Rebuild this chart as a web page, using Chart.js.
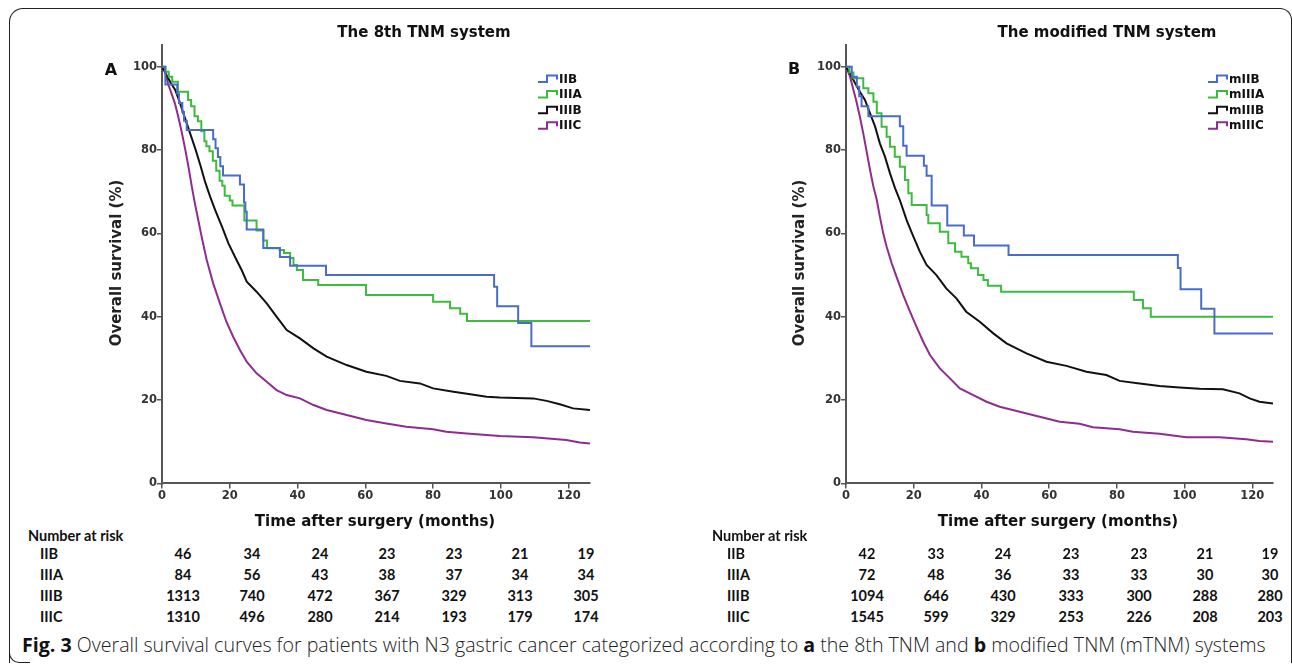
<!DOCTYPE html>
<html>
<head>
<meta charset="utf-8">
<script src="https://cdn.jsdelivr.net/npm/chart.js@4.4.1/dist/chart.umd.min.js"></script>
<style>
  html, body { margin:0; padding:0; background:#fff; width:1292px; height:666px; overflow:hidden; }
  .abs { position:absolute; white-space:nowrap; }
  .frame { position:absolute; left:9px; top:8px; width:1281px; height:654px; border:1.6px solid #222; border-bottom:none; border-top-left-radius:14px; border-top-right-radius:12px; }
  .frame2 { position:absolute; left:9px; top:640px; width:20px; height:22px; border-left:1.6px solid #222; border-bottom:1.6px solid #222; border-bottom-left-radius:10px; border-top:none; }
  .ttl { font-family:"DejaVu Sans"; font-weight:bold; font-size:15px; color:#111; transform:translate(-50%,-50%); }
  .pl { font-family:"DejaVu Sans"; font-weight:bold; font-size:16px; color:#111; transform:translate(-50%,-50%); }
  .ytl { font-family:"DejaVu Sans"; font-weight:bold; font-size:15px; color:#222; transform:translate(-50%,-50%) rotate(-90deg); }
  .risk { font-family:"Lato"; font-weight:bold; font-size:14.5px; color:#111; }
  .num { transform:translateX(-50%); }
  .cap { font-family:"Open Sans"; font-weight:300; font-size:19.6px; color:#222; }
  canvas { position:absolute; }
</style>
</head>
<body>
<div class="frame"></div>
<div class="frame2"></div>
<canvas id="cA" width="500" height="500" style="left:100px;top:20px"></canvas>
<canvas id="cB" width="500" height="500" style="left:784px;top:20px"></canvas>
<div id="texts"></div>
<script>
// ---------- DATA ----------
const yTicks = [0, 20, 40, 60, 80, 100];
const xTicks = [0, 20, 40, 60, 80, 100, 120];

// Panel A: 8th TNM
const tA_IIB  = [0, 1, 4.5, 5, 6, 6.5, 7.3, 15.1, 15.8, 16.5, 17.2, 18, 23, 24.2, 24.6, 25, 29.9, 34.8, 37.8, 48.4, 98, 98.9, 105.1, 109, 126.3];
const sA_IIB  = [100, 95.7, 93.5, 91.3, 89.1, 87.0, 84.8, 82.6, 80.4, 78.3, 76.1, 73.9, 71.7, 67.4, 65.2, 60.9, 56.5, 54.3, 52.2, 50.0, 47.2, 42.5, 38.5, 32.9, 32.9];
const tA_IIIA = [0, 1, 2, 3, 4.7, 7.7, 8.6, 9.6, 10.6, 11.6, 12.5, 13.1, 14, 15, 16, 17, 17.8, 18.5, 20, 20.8, 24.3, 27.9, 29.9, 31, 34.7, 36, 37.8, 38.8, 39.8, 41.6, 46.1, 60.2, 80, 85, 88, 90, 126.3];
const sA_IIIA = [100, 98.8, 97.6, 96.4, 94.0, 92.0, 90.5, 88.1, 86.9, 84.5, 82.1, 80.9, 79.7, 77.4, 75.0, 72.6, 71.4, 69.0, 67.9, 66.7, 63.1, 60.7, 58.3, 56.4, 56.0, 55.3, 54.1, 52.4, 51.2, 48.8, 47.6, 45.2, 43.6, 42.0, 40.7, 39.0, 39.0];
const tA_IIIB = [0, 2.4, 3.9, 5.3, 6.8, 8.3, 9.8, 11.3, 12.7, 14.2, 15.7, 17.7, 19.6, 22, 23.5, 25, 27.9, 30.9, 33.8, 36.8, 40.7, 44.7, 48.6, 54.5, 60.3, 66.2, 70.2, 76.1, 80, 86, 90, 95.8, 99.7, 109.5, 113.5, 117.4, 121.3, 126.3];
const sA_IIIB = [100, 96.4, 94.4, 91.3, 87.6, 84.0, 80.4, 76.4, 72.4, 68.8, 65.6, 61.6, 57.6, 53.6, 51.2, 48.4, 46.0, 43.2, 40.0, 36.8, 34.8, 32.4, 30.4, 28.4, 26.8, 25.8, 24.6, 24.0, 22.8, 22.0, 21.5, 20.8, 20.6, 20.4, 19.8, 19.0, 18.0, 17.6];
const tA_IIIC = [0, 0.8, 1.9, 2.8, 3.8, 4.8, 5.8, 6.8, 7.8, 8.8, 9.7, 10.7, 11.7, 13.2, 15.1, 17.1, 19, 21, 23, 25, 27.9, 30.9, 33.8, 36.8, 40.7, 44.7, 48.6, 54.5, 60.3, 66.2, 72.1, 80, 83.9, 89.9, 99.7, 109.5, 119.3, 123.3, 126.3];
const sA_IIIC = [100, 99.2, 95.6, 93.6, 91.2, 88.0, 84.4, 80.4, 76.0, 71.2, 67.2, 63.2, 59.2, 53.6, 48.0, 43.2, 38.8, 35.2, 32.0, 29.2, 26.4, 24.4, 22.4, 21.2, 20.4, 18.8, 17.6, 16.4, 15.2, 14.4, 13.6, 13.0, 12.4, 12.0, 11.4, 11.1, 10.4, 9.8, 9.6];

// Panel B: modified TNM
const tB_IIB  = [0, 1.7, 3.2, 3.9, 4.6, 6.6, 15.9, 16.9, 17.9, 23, 23.8, 25.3, 29.9, 34.8, 37.8, 48, 98, 98.8, 104.9, 108.8, 126.1];
const sB_IIB  = [100, 97.6, 95.2, 92.9, 90.5, 88.1, 85.7, 81.0, 78.6, 76.2, 73.8, 66.7, 61.9, 59.5, 57.1, 54.8, 51.7, 46.6, 41.9, 36.0, 36.0];
const tB_IIIA = [0, 1, 2.2, 5.1, 6.6, 8.1, 9.1, 10.5, 12, 13, 14.4, 15.9, 17.4, 18.4, 19.4, 23.8, 24.3, 27.7, 30.2, 32.2, 34.1, 36.1, 36.9, 39, 40.6, 41.9, 45.8, 85, 87.7, 90, 126.1];
const sB_IIIA = [100, 98.6, 97.2, 94.8, 93.6, 91.6, 88.8, 85.6, 83.2, 80.8, 78.4, 76.0, 72.8, 69.6, 66.8, 64.4, 62.4, 60.4, 57.6, 55.6, 54.4, 52.8, 51.6, 50.0, 48.8, 47.4, 46.0, 44.0, 42.0, 40.0, 40.0];
const tB_IIIB = [0, 1.2, 2.7, 4.1, 5.6, 7.1, 8.6, 10, 11.5, 13, 14.5, 15.9, 17.9, 19.9, 21.8, 23.8, 26.7, 29.6, 32.6, 35.5, 39.5, 43.5, 47.4, 53.3, 59.2, 65.1, 71, 76.9, 80.8, 86.7, 92.6, 98.5, 104.4, 111.3, 116.2, 119.2, 122.1, 126.1];
const sB_IIIB = [100, 98.4, 96.0, 94.0, 92.0, 88.8, 85.6, 81.6, 78.4, 74.4, 70.8, 68.0, 63.2, 59.2, 55.6, 52.4, 50.0, 46.8, 44.4, 41.2, 38.8, 36.0, 33.6, 31.2, 29.2, 28.2, 26.8, 26.0, 24.6, 24.0, 23.4, 23.0, 22.7, 22.6, 21.6, 20.4, 19.6, 19.2];
const tB_IIIC = [0, 1.2, 2.2, 3.1, 4.1, 5.1, 6.1, 7.1, 8.1, 9.1, 10, 11, 12, 13.5, 14.9, 16.9, 18.9, 20.8, 22.8, 24.8, 27.7, 30.7, 33.6, 37.6, 41.5, 45.4, 51.3, 57.2, 63.1, 69, 72.9, 80.8, 84.7, 92.6, 100.5, 110.3, 118.2, 122.1, 126.1];
const sB_IIIC = [100, 97.6, 94.4, 91.6, 88.0, 84.0, 79.6, 75.2, 71.2, 68.0, 64.0, 60.0, 56.8, 52.8, 49.6, 45.2, 41.2, 37.6, 34.0, 30.8, 27.6, 25.2, 22.8, 21.2, 19.6, 18.4, 17.2, 16.0, 14.8, 14.3, 13.5, 13.0, 12.4, 11.9, 11.1, 11.1, 10.6, 10.2, 10.0];

const labelsA = ["IIB", "IIIA", "IIIB", "IIIC"];
const labelsB = ["mIIB", "mIIIA", "mIIIB", "mIIIC"];
const riskLabels = ["IIB", "IIIA", "IIIB", "IIIC"];
const riskA_IIB  = [46, 34, 24, 23, 23, 21, 19];
const riskA_IIIA = [84, 56, 43, 38, 37, 34, 34];
const riskA_IIIB = [1313, 740, 472, 367, 329, 313, 305];
const riskA_IIIC = [1310, 496, 280, 214, 193, 179, 174];
const riskB_IIB  = [42, 33, 24, 23, 23, 21, 19];
const riskB_IIIA = [72, 48, 36, 33, 33, 30, 30];
const riskB_IIIB = [1094, 646, 430, 333, 300, 288, 280];
const riskB_IIIC = [1545, 599, 329, 253, 226, 208, 203];

// ---------- STYLE ----------
const colors = ["#4a6cc9", "#3dbb3d", "#111111", "#8e2c8f"];
const stepped = [true, true, false, false];
const tickFont = { family: "DejaVu Sans", weight: "bold", size: 11.5 };

const stepLegend = {
  id: "stepLegend",
  afterDraw(chart, args, opts) {
    const ctx = chart.ctx;
    ctx.save();
    chart.data.datasets.forEach((ds, i) => {
      const y = opts.y + i * opts.dy;
      const x = opts.x;
      ctx.strokeStyle = ds.borderColor;
      ctx.lineWidth = 2;
      ctx.beginPath();
      ctx.moveTo(x, y + 3);
      ctx.lineTo(x + 9, y + 3);
      ctx.lineTo(x + 9, y - 3.5);
      ctx.lineTo(x + 19, y - 3.5);
      ctx.lineTo(x + 19, y + 0.5);
      ctx.stroke();
      ctx.fillStyle = "#111";
      ctx.font = "bold 12px 'DejaVu Sans'";
      ctx.textBaseline = "middle";
      ctx.fillText(ds.label, x + 21, y + 0.5);
    });
    ctx.restore();
  }
};

function makeChart(id, times, surv, labels, xMax, rightPad, legendX) {
  const datasets = times.map((t, i) => ({
    label: labels[i],
    data: t.map((m, j) => ({ x: m, y: surv[i][j] })),
    borderColor: colors[i],
    borderWidth: 2,
    pointRadius: 0,
    stepped: stepped[i] ? "before" : false,
    tension: 0,
    fill: false
  }));
  return new Chart(document.getElementById(id), {
    type: "line",
    data: { datasets },
    options: {
      animation: false,
      responsive: false,
      devicePixelRatio: 1,
      layout: { padding: { left: 0, right: rightPad, top: 25, bottom: 0 } },
      plugins: {
        legend: { display: false },
        tooltip: { enabled: false },
        stepLegend: { x: legendX, y: 59, dy: 15.6 }
      },
      scales: {
        x: {
          type: "linear", min: 0, max: xMax,
          afterBuildTicks: s => { s.ticks = xTicks.map(v => ({ value: v })); },
          afterFit: s => { s.height = 36.6; },
          ticks: { font: tickFont, color: "#333", padding: 1, maxRotation: 0, autoSkip: false },
          grid: { drawOnChartArea: false, drawTicks: true, tickLength: 5, color: "#555", lineWidth: 1.5 },
          border: { display: true, color: "#555", width: 2 }
        },
        y: {
          type: "linear", min: 0, max: 105.2,
          afterBuildTicks: s => { s.ticks = yTicks.map(v => ({ value: v })); },
          afterFit: s => { s.width = 62; },
          ticks: { font: tickFont, color: "#333", padding: 0, autoSkip: false },
          grid: { drawOnChartArea: false, drawTicks: true, tickLength: 5, color: "#555", lineWidth: 1.5 },
          border: { display: true, color: "#555", width: 2 }
        }
      }
    },
    plugins: [stepLegend]
  });
}

makeChart("cA", [tA_IIB, tA_IIIA, tA_IIIB, tA_IIIC], [sA_IIB, sA_IIIA, sA_IIIB, sA_IIIC], labelsA, 126.3, 10, 438);
makeChart("cB", [tB_IIB, tB_IIIA, tB_IIIB, tB_IIIC], [sB_IIB, sB_IIIA, sB_IIIB, sB_IIIC], labelsB, 126.1, 11, 424);

// ---------- TEXT ----------
const T = document.getElementById("texts");
function add(cls, x, y, html) {
  const d = document.createElement("div");
  d.className = "abs " + cls;
  d.style.left = x + "px"; d.style.top = y + "px";
  d.innerHTML = html;
  T.appendChild(d);
}
add("ttl", 424, 32, "The 8th TNM system");
add("ttl", 1107, 32, "The modified TNM system");
add("pl", 111, 69, "A");
add("pl", 794, 68, "B");
add("ytl", 116, 263, "Overall survival (%)");
add("ytl", 799, 263, "Overall survival (%)");
add("ttl", 375, 521, "Time after surgery (months)");
add("ttl", 1058, 521, "Time after surgery (months)");

function riskTable(x0, labelX, cols, rows) {
  add("risk", x0, 527, "Number at risk");
  const ys = [545, 566, 587, 608];
  rows.forEach((r, i) => {
    add("risk", labelX, ys[i], riskLabels[i]);
    r.forEach((v, j) => add("risk num", cols[j], ys[i], String(v)));
  });
}
riskTable(28, 40, [183, 252, 320, 387, 454, 520, 586], [riskA_IIB, riskA_IIIA, riskA_IIIB, riskA_IIIC]);
riskTable(712, 727, [867, 936, 1003, 1071, 1139, 1205, 1270], [riskB_IIB, riskB_IIIA, riskB_IIIB, riskB_IIIC]);

add("cap", 22, 631, "<b style='font-weight:700;color:#111'>Fig. 3</b> Overall survival curves for patients with N3 gastric cancer categorized according to <b style='font-weight:700;color:#111'>a</b> the 8th TNM and <b style='font-weight:700;color:#111'>b</b> modified TNM (mTNM) systems");
</script>
</body>
</html>
